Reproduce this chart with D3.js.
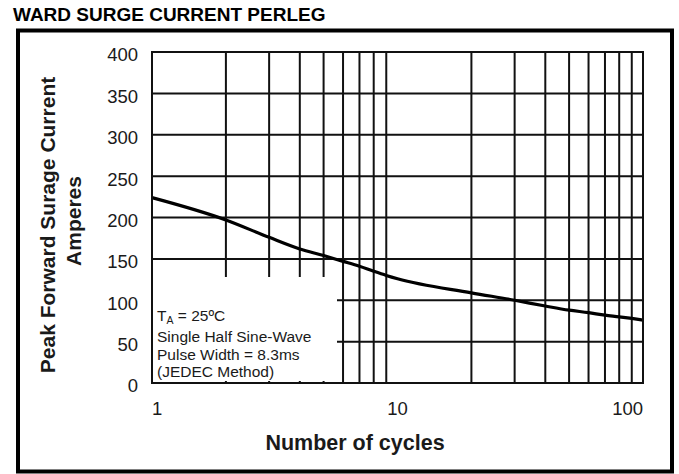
<!DOCTYPE html>
<html>
<head>
<meta charset="utf-8">
<script src="https://cdn.jsdelivr.net/npm/d3@7"></script>
<style>
  html, body { margin: 0; padding: 0; background: #fff; }
  svg { display: block; font-family: "Liberation Sans", Arial, sans-serif; }
</style>
</head>
<body>
<svg id="chart" width="679" height="474"></svg>
<script>
// ---- data ----
const cycles = [1, 2, 3, 4, 5, 6, 7, 8, 9, 10, 20, 30, 40, 50, 60, 70, 80, 90, 100];
const current = [224, 197, 176, 162, 154, 147, 141, 135, 130, 126, 109, 100, 93, 88, 85, 82, 80, 78, 76];
const yTicks = [0, 50, 100, 150, 200, 250, 300, 350, 400];
const xTickLabels = [1, 10, 100];
const gridCycles = [2, 3, 4, 5, 6, 7, 8, 9, 20, 30, 40, 50, 60, 70, 80, 90];
const titleText = "WARD SURGE CURRENT PERLEG";
const yLabelLines = ["Peak Forward Surage Current", "Amperes"];
const xLabelText = "Number of cycles";
const legendLines = ["Single Half Sine-Wave", "Pulse Width = 8.3ms", "(JEDEC Method)"];

// ---- layout ----
const svg = d3.select("#chart");
const plot = { left: 152, top: 52, right: 643, bottom: 383 };

const x = d3.scaleLog().domain([1, 100]).range([plot.left, plot.right]);
const y = d3.scaleLinear().domain([0, 400]).range([plot.bottom, plot.top]);

// outer frame
svg.append("rect")
  .attr("x", 18).attr("y", 30.5).attr("width", 654).attr("height", 441)
  .attr("fill", "none").attr("stroke", "#000").attr("stroke-width", 4);

// title
svg.append("text")
  .attr("x", 13).attr("y", 21)
  .attr("font-size", 19).attr("font-weight", "bold").attr("fill", "#000")
  .text(titleText);

const g = svg.append("g");

// horizontal grid
g.selectAll("line.hgrid").data(yTicks.filter(v => v > 0 && v < 400)).enter()
  .append("line").attr("class", "hgrid")
  .attr("x1", plot.left).attr("x2", plot.right)
  .attr("y1", d => y(d)).attr("y2", d => y(d))
  .attr("stroke", "#111").attr("stroke-width", 2);

// vertical grid
g.selectAll("line.vgrid").data(gridCycles).enter()
  .append("line").attr("class", "vgrid")
  .attr("x1", d => x(d)).attr("x2", d => x(d))
  .attr("y1", plot.top).attr("y2", plot.bottom)
  .attr("stroke", "#111").attr("stroke-width", 2);

// legend box (white, covers the grid)
g.append("rect")
  .attr("x", plot.left).attr("y", 277)
  .attr("width", 337 - plot.left).attr("height", 381 - 277)
  .attr("fill", "#fff");

// curve
const line = d3.line()
  .x((d, i) => x(cycles[i]))
  .y(d => y(d))
  .curve(d3.curveMonotoneX);
g.append("path").datum(current)
  .attr("d", line)
  .attr("fill", "none").attr("stroke", "#000").attr("stroke-width", 3.2);

// plot frame
g.append("rect")
  .attr("x", plot.left).attr("y", plot.top)
  .attr("width", plot.right - plot.left).attr("height", plot.bottom - plot.top)
  .attr("fill", "none").attr("stroke", "#111").attr("stroke-width", 2);

// legend text
const lg = g.append("g").attr("font-size", 15.5).attr("fill", "#1a1a1a");
const t0 = lg.append("text").attr("x", 157).attr("y", 321);
t0.append("tspan").text("T");
t0.append("tspan").attr("font-size", 10.5).attr("dy", 2.5).text("A");
t0.append("tspan").attr("dy", -2.5).text(" = 25ºC");
legendLines.forEach((s, i) => {
  lg.append("text").attr("x", 157).attr("y", 342 + i * 17.5).text(s);
});

// y tick labels
g.selectAll("text.ytick").data(yTicks).enter()
  .append("text").attr("class", "ytick")
  .attr("x", 138).attr("y", d => y(d) + 3)
  .attr("dy", "0.35em").attr("text-anchor", "end")
  .attr("font-size", 18.5).attr("fill", "#1a1a1a")
  .text(d => d);

// x tick labels
g.selectAll("text.xtick").data(xTickLabels).enter()
  .append("text").attr("class", "xtick")
  .attr("x", d => x(d)).attr("y", 415)
  .attr("text-anchor", (d, i) => i === 0 ? "start" : (i === xTickLabels.length - 1 ? "end" : "middle"))
  .attr("font-size", 18.5).attr("fill", "#1a1a1a")
  .text(d => d);

// axis titles
svg.append("text")
  .attr("x", 355).attr("y", 450).attr("text-anchor", "middle")
  .attr("font-size", 21.5).attr("font-weight", "bold").attr("fill", "#1a1a1a")
  .text(xLabelText);

yLabelLines.forEach((s, i) => {
  svg.append("text")
    .attr("transform", `translate(${55 + i * 26},${225 - i * 4}) rotate(-90)`)
    .attr("text-anchor", "middle")
    .attr("font-size", 21).attr("font-weight", "bold").attr("fill", "#1a1a1a")
    .text(s);
});
</script>
</body>
</html>
